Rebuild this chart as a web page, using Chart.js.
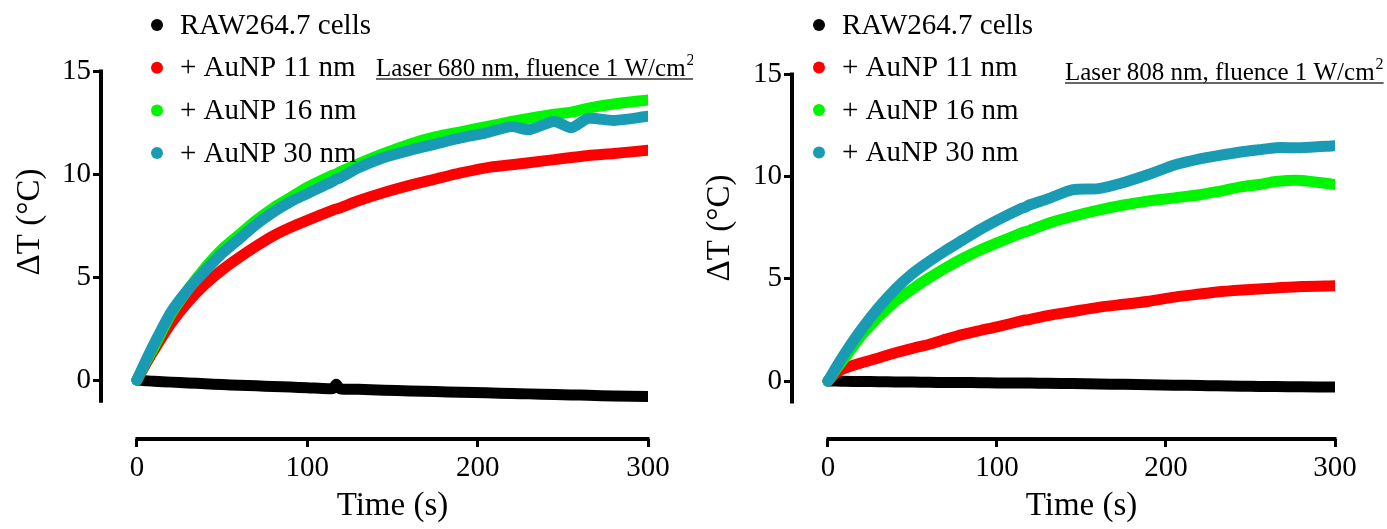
<!DOCTYPE html>
<html>
<head>
<meta charset="utf-8">
<script src="https://cdn.jsdelivr.net/npm/chart.js@4.4.1/dist/chart.umd.min.js"></script>
<style>
html, body { margin: 0; padding: 0; background: #fff; }
#wrap { position: relative; width: 1387px; height: 529px; overflow: hidden; }
canvas { position: absolute; top: 0; }
#c680 { left: 0; }
#c808 { left: 693px; }
</style>
</head>
<body>
<div id="wrap">
    <canvas id="c680" width="693" height="529"></canvas>
    <canvas id="c808" width="694" height="529"></canvas>
</div>
<script>
// --- data ---
const times = [0, 5, 10, 20, 30, 40, 50, 60, 70, 80, 90, 100, 115, 117, 119, 130, 145, 160, 175, 190, 205, 220, 230, 245, 255, 265, 280, 300];

const seriesNames = ['RAW264.7 cells', '+ AuNP 11 nm', '+ AuNP 16 nm', '+ AuNP 30 nm'];
const seriesColors = ['#000000', '#ff0000', '#00f500', '#1a9bb4'];

const xTicks = [0, 100, 200, 300];
const yTicks = [0, 5, 10, 15];

// Laser 680 nm
const raw680  = [0, -0.03, -0.06, -0.1, -0.14, -0.18, -0.22, -0.25, -0.28, -0.31, -0.34, -0.37, -0.41, -0.2, -0.41, -0.45, -0.49, -0.53, -0.56, -0.59, -0.62, -0.65, -0.67, -0.7, -0.72, -0.74, -0.77, -0.8];
const au11_680 = [0, 0.75, 1.45, 2.75, 3.8, 4.65, 5.35, 5.95, 6.5, 7.0, 7.4, 7.75, 8.25, 8.3, 8.35, 8.7, 9.1, 9.45, 9.75, 10.05, 10.3, 10.45, 10.55, 10.7, 10.8, 10.9, 11.0, 11.15];
const au16_680 = [0, 0.85, 1.6, 3.2, 4.4, 5.45, 6.35, 7.05, 7.75, 8.35, 8.85, 9.35, 9.95, 10.0, 10.1, 10.5, 11.0, 11.45, 11.8, 12.05, 12.3, 12.55, 12.7, 12.9, 13.0, 13.2, 13.4, 13.6];
const au30_680 = [0, 0.9, 1.75, 3.3, 4.4, 5.3, 6.15, 6.85, 7.55, 8.15, 8.65, 9.05, 9.65, 9.75, 9.8, 10.3, 10.8, 11.15, 11.45, 11.75, 12.0, 12.3, 12.15, 12.55, 12.25, 12.7, 12.6, 12.8];

// Laser 808 nm
const raw808  = [0, 0, -0.01, -0.02, -0.03, -0.04, -0.05, -0.06, -0.07, -0.07, -0.08, -0.09, -0.1, -0.1, -0.1, -0.11, -0.12, -0.14, -0.16, -0.18, -0.2, -0.22, -0.23, -0.25, -0.26, -0.27, -0.28, -0.29];
const au11_808 = [0, 0.4, 0.63, 0.9, 1.13, 1.38, 1.6, 1.8, 2.05, 2.28, 2.47, 2.65, 2.95, 2.98, 3.0, 3.2, 3.4, 3.6, 3.75, 3.9, 4.1, 4.25, 4.35, 4.45, 4.5, 4.55, 4.62, 4.66];
const au16_808 = [0, 0.6, 1.15, 2.25, 3.15, 3.9, 4.5, 5.05, 5.55, 6.0, 6.4, 6.75, 7.25, 7.3, 7.35, 7.7, 8.05, 8.35, 8.6, 8.8, 8.95, 9.1, 9.25, 9.5, 9.6, 9.75, 9.8, 9.6];
const au30_808 = [0, 0.7, 1.36, 2.55, 3.6, 4.5, 5.25, 5.85, 6.4, 6.9, 7.4, 7.85, 8.45, 8.5, 8.6, 8.9, 9.35, 9.4, 9.7, 10.1, 10.55, 10.85, 11.0, 11.2, 11.3, 11.4, 11.4, 11.5];

const SERIF = '"Liberation Serif", "Times New Roman", serif';

// axes, legend, labels — Prism-like look
const decorPlugin = {
    id: 'decor',
    afterDraw(chart, args, o) {
        const ctx = chart.ctx;
        const xs = chart.scales.x, ys = chart.scales.y;
        const area = chart.chartArea;
        ctx.save();
        ctx.strokeStyle = '#000';
        ctx.lineWidth = 4;
        ctx.lineCap = 'butt';
        // y axis
        ctx.beginPath();
        ctx.moveTo(area.left, ys.getPixelForValue(15) - 1.5);
        ctx.lineTo(area.left, ys.getPixelForValue(o.yAxisEnd));
        ctx.stroke();
        // x axis
        ctx.beginPath();
        ctx.moveTo(xs.getPixelForValue(0) - 1.5, area.bottom);
        ctx.lineTo(xs.getPixelForValue(300) + 1.5, area.bottom);
        ctx.stroke();

        ctx.fillStyle = '#000';
        // axis titles
        ctx.font = '33px ' + SERIF;
        ctx.textAlign = 'center';
        ctx.textBaseline = 'middle';
        ctx.fillText('Time (s)', xs.getPixelForValue(150), o.xTitleY);
        ctx.save();
        ctx.translate(o.yTitleX, o.yTitleY);
        ctx.rotate(-Math.PI / 2);
        ctx.fillText('\u0394T (\u00B0C)', 0, 0);
        ctx.restore();

        // legend
        ctx.font = '29px ' + SERIF;
        ctx.textAlign = 'left';
        seriesNames.forEach((name, i) => {
            const y = o.legendY + i * o.legendGap;
            ctx.fillStyle = seriesColors[i];
            ctx.beginPath();
            ctx.arc(o.legendX, y, 6, 0, Math.PI * 2);
            ctx.fill();
            ctx.fillStyle = '#000';
            ctx.fillText(name, o.legendX + 23, y + 1);
        });

        // laser note with superscript and underline
        ctx.textBaseline = 'alphabetic';
        ctx.font = '25px ' + SERIF;
        const main = o.note;
        const w = ctx.measureText(main).width;
        ctx.fillText(main, o.noteX, o.noteY);
        ctx.font = '16px ' + SERIF;
        ctx.fillText('2', o.noteX + w + 1, o.noteY - 11);
        const w2 = ctx.measureText('2').width;
        ctx.strokeStyle = '#333';
        ctx.lineWidth = 1.3;
        ctx.beginPath();
        ctx.moveTo(o.noteX, o.noteY + 3);
        ctx.lineTo(o.noteX + w + w2 + 1, o.noteY + 3);
        ctx.stroke();
        ctx.restore();
    }
};

function makeSet(label, values, color, order) {
    return {
        label: label,
        data: times.map((t, i) => ({ x: t, y: values[i] })),
        borderColor: color,
        backgroundColor: color,
        borderWidth: 11,
        borderCapStyle: 'round',
        borderJoinStyle: 'round',
        pointRadius: 0,
        tension: 0.25,
        order: order
    };
}

function makeChart(id, sets, cfg) {
    const tickFont = { family: SERIF, size: 29 };
    return new Chart(document.getElementById(id), {
        type: 'line',
        data: {
            datasets: [
                makeSet(seriesNames[3], sets[3], seriesColors[3], 0),
                makeSet(seriesNames[2], sets[2], seriesColors[2], 1),
                makeSet(seriesNames[1], sets[1], seriesColors[1], 2),
                makeSet(seriesNames[0], sets[0], seriesColors[0], 3)
            ]
        },
        options: {
            responsive: false,
            animation: false,
            layout: { padding: { top: cfg.padTop, right: cfg.padRight, left: 0, bottom: 0 } },
            plugins: {
                legend: { display: false },
                tooltip: { enabled: false },
                decor: cfg.decor
            },
            scales: {
                x: {
                    type: 'linear',
                    min: cfg.xMin, max: 300,
                    afterBuildTicks: s => { s.ticks = xTicks.map(v => ({ value: v })); },
                    afterFit: s => { s.height = cfg.xAxisH; },
                    border: { display: false },
                    grid: { display: true, drawOnChartArea: false, drawTicks: true, tickLength: 8, lineWidth: 3, color: '#000' },
                    ticks: { font: tickFont, color: '#000', padding: 4, maxRotation: 0 }
                },
                y: {
                    type: 'linear',
                    min: cfg.yMin, max: 15,
                    afterBuildTicks: s => { s.ticks = yTicks.map(v => ({ value: v })); },
                    afterFit: s => { s.width = cfg.yAxisW; },
                    border: { display: false },
                    grid: { display: true, drawOnChartArea: false, drawTicks: true, tickLength: 8, lineWidth: 3, color: '#000' },
                    ticks: { font: tickFont, color: '#000', padding: 2 }
                }
            }
        },
        plugins: [decorPlugin]
    });
}

makeChart('c680', [raw680, au11_680, au16_680, au30_680], {
    padTop: 71, padRight: 45, xMin: -21.1, yMin: -2.86, xAxisH: 90, yAxisW: 101,
    decor: { yAxisEnd: -1.1, xTitleY: 506, yTitleX: 30, yTitleY: 222,
             legendX: 157, legendY: 25, legendGap: 42.7,
             note: 'Laser 680 nm, fluence 1 W/cm', noteX: 376, noteY: 76 }
});

makeChart('c808', [raw808, au11_808, au16_808, au30_808], {
    padTop: 74, padRight: 52, xMin: -21.3, yMin: -2.83, xAxisH: 90, yAxisW: 99,
    decor: { yAxisEnd: -1.1, xTitleY: 506, yTitleX: 27, yTitleY: 228,
             legendX: 126, legendY: 25, legendGap: 42.5,
             note: 'Laser 808 nm, fluence 1 W/cm', noteX: 372, noteY: 80 }
});
</script>
</body>
</html>
